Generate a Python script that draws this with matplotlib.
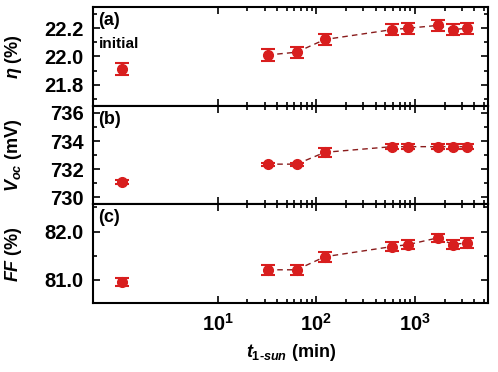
import numpy as np
import matplotlib.pyplot as plt
from matplotlib.ticker import FixedLocator, MultipleLocator, NullFormatter

plt.rcParams['font.family'] = ['Liberation Sans', 'DejaVu Sans']
plt.rcParams['mathtext.fontset'] = 'custom'
plt.rcParams['mathtext.it'] = 'Liberation Sans:italic:bold'
plt.rcParams['mathtext.rm'] = 'Liberation Sans:bold'
plt.rcParams['mathtext.bf'] = 'Liberation Sans:bold'

# initial state
t0 = 1.07
eta0, eta0_err = 21.91, 0.04
voc0, voc0_err = 731.1, 0.15
ff0, ff0_err = 80.96, 0.08

# light soaking
t = [32, 63, 122, 585, 850, 1700, 2430, 3380]
eta = [22.01, 22.03, 22.12, 22.19, 22.20, 22.22, 22.19, 22.20]
eta_err = [0.04, 0.04, 0.04, 0.04, 0.04, 0.04, 0.04, 0.04]
voc = [732.36, 732.36, 733.2, 733.6, 733.6, 733.6, 733.6, 733.6]
voc_err = [0.1, 0.1, 0.3, 0.2, 0.2, 0.2, 0.2, 0.2]
ff = [81.21, 81.21, 81.48, 81.69, 81.73, 81.87, 81.73, 81.77]
ff_err = [0.1, 0.1, 0.1, 0.1, 0.1, 0.08, 0.1, 0.1]

red = '#d81e1e'
fig, axs = plt.subplots(3, 1, figsize=(4.98, 3.72), dpi=100, sharex=True)
fig.subplots_adjust(left=0.187, right=0.980, top=0.981, bottom=0.185, hspace=0)

panels = [
    (axs[0], eta0, eta0_err, eta, eta_err, (21.65, 22.35), 0.2, 0.1, r'$\eta$ (%)', '(a)', '%.1f'),
    (axs[1], voc0, voc0_err, voc, voc_err, (729.5, 736.5), 2, 1, r'$V_{oc}$ (mV)', '(b)', '%d'),
    (axs[2], ff0, ff0_err, ff, ff_err, (80.52, 82.56), 1.0, 0.5, r'$FF$ (%)', '(c)', '%.1f'),
]

for ax, y0, e0, y, e, ylim, maj, mnr, lab, tag, fmt in panels:
    ax.errorbar([t0], [y0], yerr=[e0], fmt='o', color=red, ms=7, capsize=5, elinewidth=1.5, capthick=1.5)
    ax.plot(t, y, ls=(0, (4, 3)), lw=1.0, color='#8a1c1c', zorder=1)
    ax.errorbar(t, y, yerr=e, fmt='o', color=red, ms=7, capsize=5, elinewidth=1.5, capthick=1.5, zorder=2)
    ax.set_xscale('log')
    ax.set_xlim(0.546, 5500)
    ax.set_ylim(*ylim)
    ax.yaxis.set_major_locator(MultipleLocator(maj))
    ax.yaxis.set_minor_locator(MultipleLocator(mnr))
    ax.yaxis.set_major_formatter(plt.FormatStrFormatter(fmt))
    ax.xaxis.set_major_locator(FixedLocator([10, 100, 1000]))
    minors = [m * d for d in (10, 100, 1000) for m in range(2, 10) if m * d < 5500]
    ax.xaxis.set_minor_locator(FixedLocator(minors))
    ax.xaxis.set_minor_formatter(NullFormatter())
    ax.tick_params(which='both', direction='in', top=True, right=True, width=1.2)
    ax.tick_params(which='major', length=5, labelsize=14.5, pad=7)
    ax.tick_params(which='minor', length=3)
    for lbl in ax.get_yticklabels():
        lbl.set_fontweight('bold')
    for s in ax.spines.values():
        s.set_linewidth(1.5)
    ax.set_ylabel(lab, fontsize=13, fontweight='bold')
    ax.text(0.012, 0.95, tag, transform=ax.transAxes, fontsize=13, fontweight='bold', va='top')

axs[0].text(0.015, 0.70, 'initial', transform=axs[0].transAxes, fontsize=11, fontweight='bold', va='top')

ax = axs[2]
ax.set_xticklabels([r'$\mathbf{10^{1}}$', r'$\mathbf{10^{2}}$', r'$\mathbf{10^{3}}$'])
ax.set_xlabel(r'$t_{1\text{-}sun}$ (min)', fontsize=13, fontweight='bold', labelpad=5)

for a in axs:
    a.yaxis.set_label_coords(-0.175, 0.5)

fig.savefig('out.png', dpi=100)
